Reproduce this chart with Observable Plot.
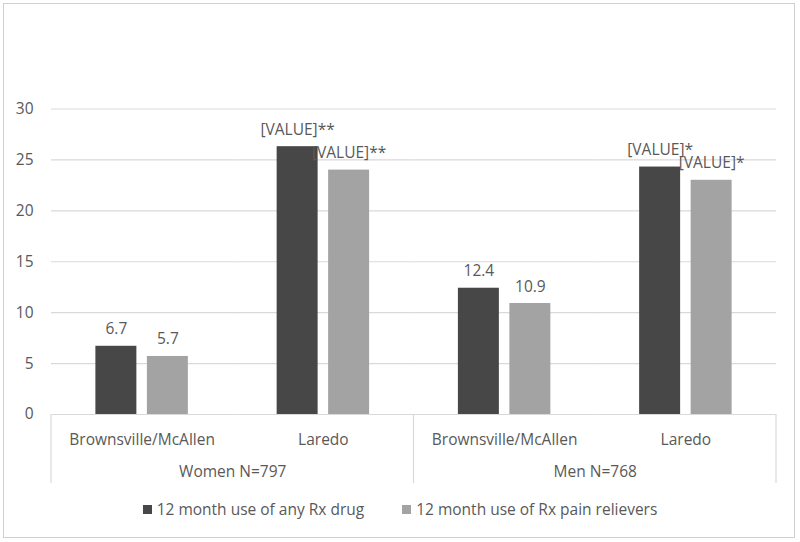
<!DOCTYPE html>
<html>
<head>
<meta charset="utf-8">
<script src="https://cdn.jsdelivr.net/npm/d3@7"></script>
<script src="https://cdn.jsdelivr.net/npm/@observablehq/plot@0.6"></script>
<style>
  html, body { margin: 0; padding: 0; background: #fff; }
  #wrap { position: relative; width: 800px; height: 542px; overflow: hidden; font-family: "Open Sans", sans-serif; color: #595959; }
  #border { position: absolute; left: 3px; top: 3px; width: 790px; height: 533px; border: 1px solid #d0d0d0; }
  #chart { position: absolute; left: 0; top: 0; }
  #legend { position: absolute; left: 0; top: 498px; width: 800px; display: flex; justify-content: center; align-items: center; font-size: 15.5px; }
  .item { display: flex; align-items: center; margin: 0 19px; }
  .sw { width: 9px; height: 9px; margin-right: 5px; }
</style>
</head>
<body>
<div id="wrap">
  <div id="border"></div>
  <div id="chart"></div>
  <div id="legend"></div>
</div>
<script>
const groups = ["Women N=797", "Men N=768"];
const sites = ["Brownsville/McAllen", "Laredo"];
const series = ["12 month use of any Rx drug", "12 month use of Rx pain relievers"];
const colors = ["#474747", "#a3a3a3"];
const anyRx = [6.7, 26.3, 12.4, 24.3];
const painRx = [5.7, 24.0, 10.9, 23.0];
const anyLabels = ["6.7", "[VALUE]**", "12.4", "[VALUE]*"];
const painLabels = ["5.7", "[VALUE]**", "10.9", "[VALUE]*"];
const yTicks = [0, 5, 10, 15, 20, 25, 30];

const keys = [];
groups.forEach(g => sites.forEach(s => keys.push(g + "|" + s)));
const data = [];
keys.forEach((k, i) => {
  data.push({key: k, series: series[0], value: anyRx[i], label: anyLabels[i]});
  data.push({key: k, series: series[1], value: painRx[i], label: painLabels[i]});
});
const groupData = groups.map((g, i) => ({key: keys[i * 2], name: g}));

const chart = Plot.plot({
  width: 800,
  height: 490,
  marginLeft: 51,
  marginRight: 24,
  marginTop: 108.5,
  marginBottom: 76,
  style: {fontFamily: "Open Sans", fontSize: "15.5px", color: "#595959", background: "transparent"},
  fx: {domain: keys, padding: 0, round: false, label: null},
  x: {domain: series, paddingInner: 0.204, paddingOuter: 0.862, round: false, axis: null},
  y: {domain: [0, 30], label: null},
  color: {domain: series, range: colors},
  marks: [
    Plot.gridY(yTicks, {stroke: "#d9d9d9", strokeOpacity: 1, strokeWidth: 1.2}),
    Plot.axisY(yTicks, {tickSize: 0, tickPadding: 18, label: null, fill: "#595959"}),
    Plot.axisFx({anchor: "bottom", tickSize: 0, tickPadding: 19, label: null, fill: "#595959", tickFormat: k => k.split("|")[1]}),
    Plot.barY(data, {fx: "key", x: "series", y: "value", fill: "series"}),
    Plot.text(data, {fx: "key", x: "series", y: "value", text: "label", lineAnchor: "bottom", dy: -12, fill: "#595959"}),
    Plot.text(groupData, {fx: "key", frameAnchor: "bottom-right", text: "name", textAnchor: "middle", dy: 62, fill: "#595959"})
  ]
});
document.getElementById("chart").appendChild(chart);

// category separators drawn from the facet scale
const fxs = chart.scale("fx");
const ys = chart.scale("y");
const y0 = ys.apply(0);
const edges = [fxs.apply(keys[0]), fxs.apply(keys[2]), fxs.apply(keys[3]) + fxs.bandwidth];
d3.select(chart).append("g")
  .selectAll("line").data(edges).join("line")
  .attr("x1", d => d).attr("x2", d => d)
  .attr("y1", y0).attr("y2", y0 + 69)
  .attr("stroke", "#d9d9d9").attr("stroke-width", 1.2);

// legend
const legend = d3.select("#legend");
series.forEach((s, i) => {
  const it = legend.append("div").attr("class", "item");
  it.append("div").attr("class", "sw").style("background", colors[i]);
  it.append("span").text(s);
});
</script>
</body>
</html>
